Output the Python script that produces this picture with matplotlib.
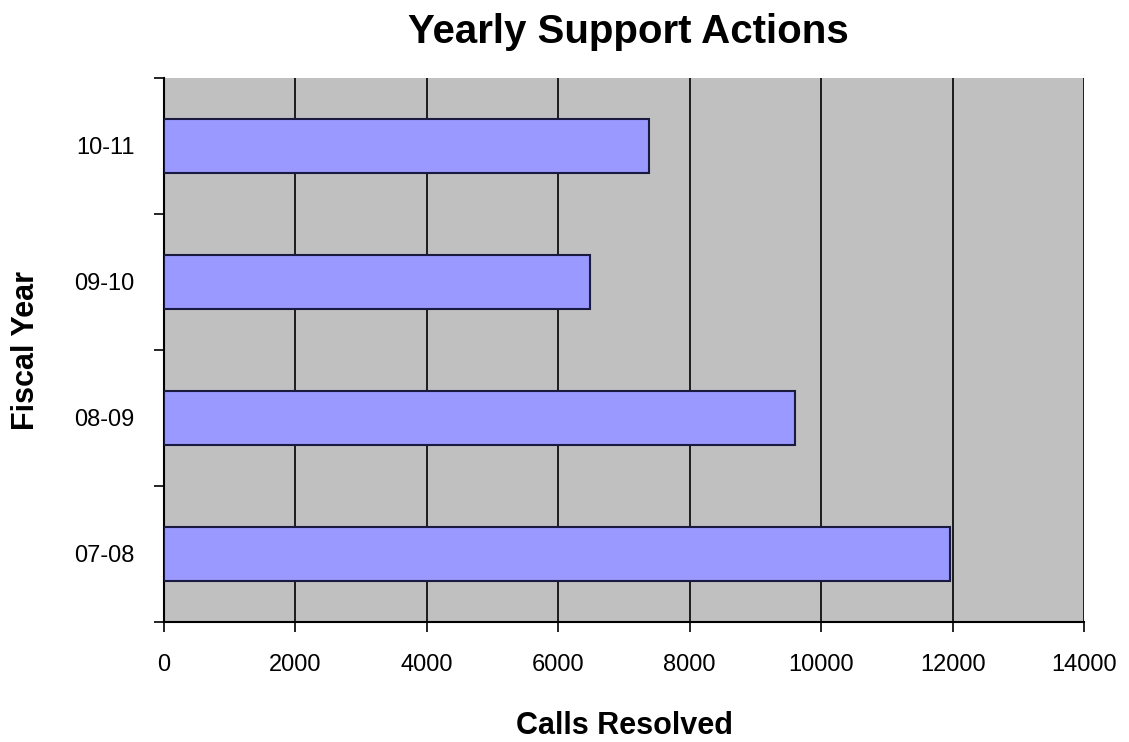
import matplotlib
matplotlib.use("Agg")
import matplotlib.pyplot as plt
import numpy as np

years = ["07-08", "08-09", "09-10", "10-11"]
calls = [11960, 9600, 6490, 7380]
xticks = [0, 2000, 4000, 6000, 8000, 10000, 12000, 14000]

plt.rcParams['font.family'] = ['Liberation Sans', 'DejaVu Sans']

fig = plt.figure(figsize=(11.29, 7.42), dpi=100)
ax = fig.add_axes([164/1129, 1-622/742, (1084-164)/1129, (622-78)/742])
ax.set_facecolor('#C0C0C0')

pos = np.arange(len(years))
ax.barh(pos, calls, height=0.4, color='#9999FF', edgecolor='#1a1a40', linewidth=1.5, zorder=3)

ax.set_xlim(0, 14000)
ax.set_ylim(-0.5, len(years) - 0.5)
ax.set_xticks(xticks)
ax.set_xticklabels([str(v) for v in xticks], fontsize=17)
ax.grid(axis='x', color='black', linewidth=1.2, zorder=1)

ax.set_yticks(pos)
ax.set_yticklabels(years, fontsize=17)
ax.tick_params(axis='y', which='major', length=0, pad=21)
ax.set_yticks(np.arange(-0.5, len(years) + 0.5, 1), minor=True)
ax.tick_params(axis='y', which='minor', length=7, width=1.2, direction='out')
ax.tick_params(axis='x', which='major', length=7, width=1.2, direction='out', pad=16)

for s in ['top', 'right']:
    ax.spines[s].set_visible(False)
for s in ['left', 'bottom']:
    ax.spines[s].set_linewidth(1.5)
    ax.spines[s].set_color('black')

ax.set_xlabel('Calls Resolved', fontsize=22, fontweight='bold', labelpad=25)
ax.set_ylabel('Fiscal Year', fontsize=22, fontweight='bold', labelpad=24)
fig.text(0.557, 1-43/742, 'Yearly Support Actions', fontsize=29, fontweight='bold', ha='center', va='baseline')

fig.savefig('out.png', dpi=100, facecolor='white')
